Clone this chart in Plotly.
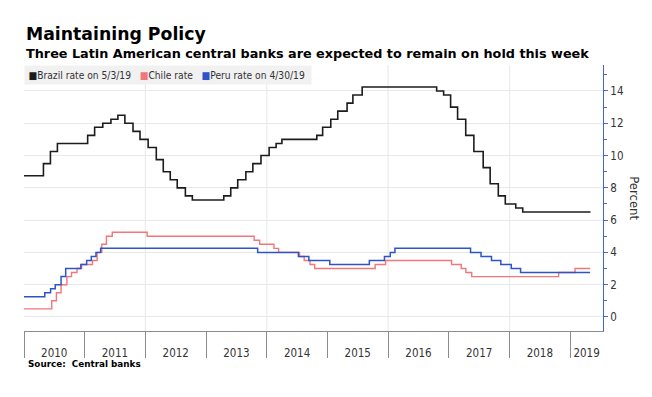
import plotly.graph_objects as go
import datetime as dt

# ---------------- data ----------------
brazil_dates = ["2010-01-01", "2010-04-28", "2010-06-09", "2010-07-21", "2011-01-19", "2011-03-02",
                "2011-04-20", "2011-06-08", "2011-07-20", "2011-08-31", "2011-10-19", "2011-11-30",
                "2012-01-18", "2012-03-07", "2012-04-18", "2012-05-30", "2012-07-11", "2012-08-29",
                "2012-10-10", "2013-04-17", "2013-05-29", "2013-07-10", "2013-08-28", "2013-10-09",
                "2013-11-27", "2014-01-15", "2014-02-26", "2014-04-02", "2014-10-29", "2014-12-03",
                "2015-01-21", "2015-03-04", "2015-04-29", "2015-06-03", "2015-07-29", "2016-10-19",
                "2016-11-30", "2017-01-11", "2017-02-22", "2017-04-12", "2017-05-31", "2017-07-26",
                "2017-09-06", "2017-10-25", "2017-12-06", "2018-02-07", "2018-03-21", "2019-05-03"]
brazil_rates = [8.75, 9.5, 10.25, 10.75, 11.25, 11.75,
                12.0, 12.25, 12.5, 12.0, 11.5, 11.0,
                10.5, 9.75, 9.0, 8.5, 8.0, 7.5,
                7.25, 7.5, 8.0, 8.5, 9.0, 9.5,
                10.0, 10.5, 10.75, 11.0, 11.25, 11.75,
                12.25, 12.75, 13.25, 13.75, 14.25, 14.0,
                13.75, 13.0, 12.25, 11.25, 10.25, 9.25,
                8.25, 7.5, 7.0, 6.75, 6.5, 6.5]

chile_dates = ["2010-01-01", "2010-06-17", "2010-07-15", "2010-08-12", "2010-09-16", "2010-10-14",
               "2010-11-16", "2010-12-14", "2011-02-17", "2011-03-17", "2011-04-14", "2011-05-12",
               "2011-06-16", "2012-01-12", "2013-10-17", "2013-11-19", "2014-02-13", "2014-03-13",
               "2014-07-17", "2014-08-14", "2014-09-18", "2014-10-16", "2015-10-15", "2015-12-17",
               "2017-01-17", "2017-03-16", "2017-04-13", "2017-05-18", "2018-10-23", "2019-01-30",
               "2019-05-01"]
chile_rates = [0.5, 1.0, 1.5, 2.0, 2.5, 2.75,
               3.0, 3.25, 3.5, 4.0, 4.5, 5.0,
               5.25, 5.0, 4.75, 4.5, 4.25, 4.0,
               3.75, 3.5, 3.25, 3.0, 3.25, 3.5,
               3.25, 3.0, 2.75, 2.5, 2.75, 3.0,
               3.0]

peru_dates = ["2010-01-01", "2010-05-06", "2010-06-10", "2010-07-08", "2010-08-12", "2010-09-09",
              "2010-12-09", "2011-01-13", "2011-02-10", "2011-03-10", "2011-04-07", "2013-11-07",
              "2014-07-10", "2014-09-11", "2015-01-15", "2015-09-10", "2015-12-10", "2016-01-14",
              "2016-02-11", "2017-05-11", "2017-07-13", "2017-09-14", "2017-11-09", "2018-01-11",
              "2018-03-08", "2019-04-30"]
peru_rates = [1.25, 1.5, 1.75, 2.0, 2.5, 3.0,
              3.25, 3.5, 3.75, 4.0, 4.25, 4.0,
              3.75, 3.5, 3.25, 3.5, 3.75, 4.0,
              4.25, 4.0, 3.75, 3.5, 3.25, 3.0,
              2.75, 2.75]

series_names = ["Brazil rate on 5/3/19", "Chile rate", "Peru rate on 4/30/19"]
year_labels = ["2010", "2011", "2012", "2013", "2014", "2015", "2016", "2017", "2018", "2019"]
grid_years = ["2012", "2014", "2016", "2018"]

x_start = "2010-01-01"
x_end = "2019-07-17"

title = "Maintaining Policy"
subtitle = "Three Latin American central banks are expected to remain on hold this week"
source = "Source:\u00a0 Central banks"
y_title = "Percent"

# ---------------- style ----------------
colors = ["#1c1c1c", "#f2777a", "#2d55c8"]
widths = [1.6, 1.4, 1.5]
axis_blue = "#4566d4"
cond_font = "DejaVu Sans Condensed, Liberation Sans Narrow, Open Sans, sans-serif"
bold_font = "DejaVu Sans, Verdana, sans-serif"

fig = go.Figure()
for name, xs, ys, c, w in zip(series_names,
                              [brazil_dates, chile_dates, peru_dates],
                              [brazil_rates, chile_rates, peru_rates],
                              colors, widths):
    fig.add_trace(go.Scatter(x=xs, y=ys, name=name, mode="lines",
                             line=dict(color=c, width=w, shape="hv"),
                             showlegend=False))


def mid(a, b):
    da = dt.date.fromisoformat(a)
    db = dt.date.fromisoformat(b)
    return (da + (db - da) / 2).isoformat()


tick_pos = []
for y in year_labels:
    a = f"{y}-01-01"
    b = f"{int(y) + 1}-01-01"
    if b > x_end:
        b = x_end
    tick_pos.append(mid(a, b))

fig.update_xaxes(
    type="date", range=[x_start, x_end],
    tickmode="array", tickvals=tick_pos, ticktext=year_labels,
    ticks="", ticklabelstandoff=11,
    showgrid=False, zeroline=False,
    showline=True, linecolor="#8c8c8c", linewidth=1,
    tickfont=dict(family=cond_font, size=11.5, color="#333333"),
    minor=dict(tickmode="linear", tick0="2010-01-01", dtick="M12",
               ticks="outside", ticklen=26, tickcolor="#8c8c8c", tickwidth=1,
               showgrid=False),
)

fig.update_yaxes(
    side="right", range=[-0.87, 15.61],
    tickmode="linear", tick0=0, dtick=2,
    ticks="outside", ticklen=4, tickcolor=axis_blue, tickwidth=1,
    showline=True, linecolor=axis_blue, linewidth=1,
    showgrid=True, gridcolor="#e8e8e8", gridwidth=1, zeroline=False,
    tickfont=dict(family=cond_font, size=11.5, color="#333333"),
    minor=dict(tickmode="linear", tick0=1, dtick=2, ticks="outside", ticklen=2.5,
               tickcolor=axis_blue, showgrid=False),
)

shapes = []
for gy in grid_years:
    shapes.append(dict(type="line", xref="x", yref="paper",
                       x0=f"{gy}-01-01", x1=f"{gy}-01-01", y0=0, y1=1,
                       line=dict(color="#e8e8e8", width=1), layer="below"))

legend_html = "\u00a0\u00a0\u00a0".join(
    f"<span style='color:{c}'>■</span>{n}" for c, n in zip(colors, series_names))

annotations = [
    dict(text=f"<b>{title}</b>", x=0, xanchor="left", xshift=0, y=1.1165, yanchor="middle",
         xref="paper", yref="paper", showarrow=False,
         font=dict(family=bold_font, size=17.3, color="#000000")),
    dict(text=f"<b>{subtitle}</b>", x=0, xanchor="left", xshift=0, y=1.045, yanchor="middle",
         xref="paper", yref="paper", showarrow=False,
         font=dict(family=bold_font, size=12.8, color="#000000")),
    dict(text=legend_html + "\u00a0", x=0, xanchor="left", y=0.962, yanchor="middle",
         xref="paper", yref="paper", showarrow=False, bgcolor="#f1f1f1", borderpad=3.5,
         font=dict(family=cond_font, size=10.2, color="#333333")),
    dict(text=f"<b>{source}</b>", x=0, xanchor="left", xshift=2, y=-0.124, yanchor="middle",
         xref="paper", yref="paper", showarrow=False,
         font=dict(family=bold_font, size=8.8, color="#000000")),
    dict(text=y_title, x=1.055, xanchor="center", y=0.5, yanchor="middle",
         xref="paper", yref="paper", showarrow=False, textangle=90,
         font=dict(family=cond_font, size=13, color="#333333")),
]

# the page body adds an 8 px offset; the figure is sized so the plot area
# lands where the reference has it
fig.update_layout(
    width=644, height=389,
    margin=dict(l=16, r=49, t=57, b=66),
    paper_bgcolor="white", plot_bgcolor="white",
    shapes=shapes, annotations=annotations,
    showlegend=False,
)

fig.write_html("out.html")
